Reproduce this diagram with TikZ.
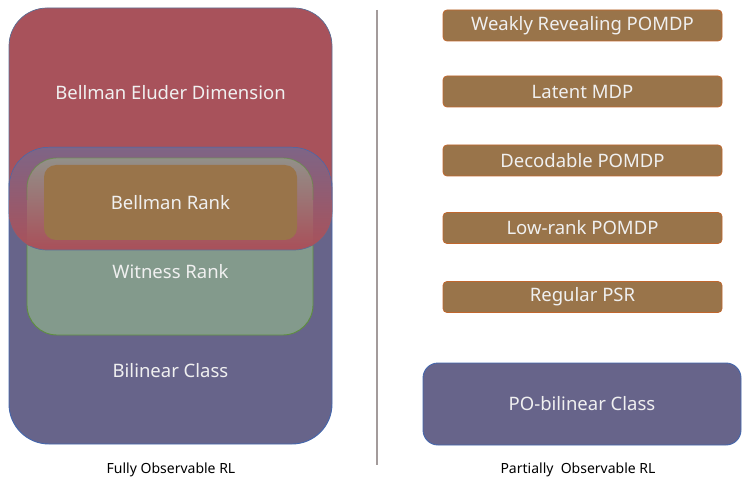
\documentclass[tikz,border=0pt]{standalone}
\usepackage{fontspec}
\setmainfont{Noto Sans}
\usepackage{xcolor}
\usepackage{tikz}
\usetikzlibrary{positioning}
\definecolor{bedred}{HTML}{A8525B}
\definecolor{redline}{HTML}{5C6F95}
\definecolor{bilblue}{HTML}{67648A}
\definecolor{billine}{HTML}{4467AD}
\definecolor{witgreen}{HTML}{839A8C}
\definecolor{witline}{HTML}{5F8F3F}
\definecolor{brkbrown}{HTML}{99744A}
\definecolor{brkline}{HTML}{C0672E}
\definecolor{bandblue}{HTML}{7E6586}
\definecolor{bandgreen}{HTML}{929089}
\definecolor{sepgray}{HTML}{A39B9B}
\newcommand{\bedpath}{[rounded corners=38pt] (9,8) rectangle (332,250)}
\newcommand{\bilpath}{[rounded corners=40pt] (9,147) rectangle (332,444)}
\newcommand{\witpath}{[rounded corners=30pt] (27,158) rectangle (313,335)}

\begin{document}
\begin{tikzpicture}[x=1pt,y=-1pt,
  lbl/.style={text=white!94!black,font=\fontsize{18.5}{22}\selectfont},
  pobox/.style={fill=brkbrown,draw=brkline,line width=0.8pt,rounded corners=4pt,
    minimum width=279pt,minimum height=31pt,inner sep=0pt},
  sidecap/.style={text=black,font=\fontsize{14}{17}\selectfont}]
\useasboundingbox (0,0) rectangle (742,481);
% fully observable side: nested classes
\fill[bilblue] \bilpath;
\draw[billine,line width=0.9pt] \bilpath;
\fill[witgreen] \witpath;
\draw[witline,line width=0.9pt] \witpath;
\fill[bedred] \bedpath;
\draw[redline,line width=0.7pt] \bedpath;
% overlap of the red class with the lower ones
\begin{scope}
  \clip \bedpath;
  \clip \bilpath;
  \shade[top color=bandblue,bottom color=bedred] (0,147) rectangle (342,246);
  \begin{scope}
    \clip \witpath;
    \shade[top color=bandgreen,bottom color=bedred] (0,158) rectangle (342,246);
  \end{scope}
  \clip (0,140) rectangle (342,200);
  \draw[billine,line width=0.9pt] \bilpath;
  \draw[witline,line width=0.9pt,opacity=.6] \witpath;
\end{scope}
\fill[brkbrown,rounded corners=12pt] (44,165) rectangle (297,240);
\node[lbl] (bed) at (170.5,93) {Bellman Eluder Dimension};
\node[lbl] (brk) at (170.5,203) {Bellman Rank};
\node[lbl] (wit) at (170.5,272) {Witness Rank};
\node[lbl] (bil) at (170.5,371) {Bilinear Class};
% separator
\coordinate (septop) at (377,10);
\coordinate (sepbot) at (377,465);
\draw[sepgray,line width=2pt] (septop) -- (sepbot);
% partially observable side
\foreach \y/\t/\n in {25.5/Weakly Revealing POMDP/wrp,91.5/Latent MDP/lmdp,
    160.5/Decodable POMDP/dec,228/Low-rank POMDP/lrp,297/Regular PSR/psr}{
  \node[pobox,lbl] (\n) at (582.5,\y) {\t};
}
\node[lbl,fill=bilblue,draw=billine,line width=0.9pt,rounded corners=15pt,
  minimum width=318pt,minimum height=82pt] (pob) at (582,404) {PO-bilinear Class};
% captions
\node[sidecap] (focap) at (171,470) {Fully Observable RL};
\node[sidecap] (pocap) at (578,470) {Partially~~Observable RL};
\end{tikzpicture}
\end{document}
